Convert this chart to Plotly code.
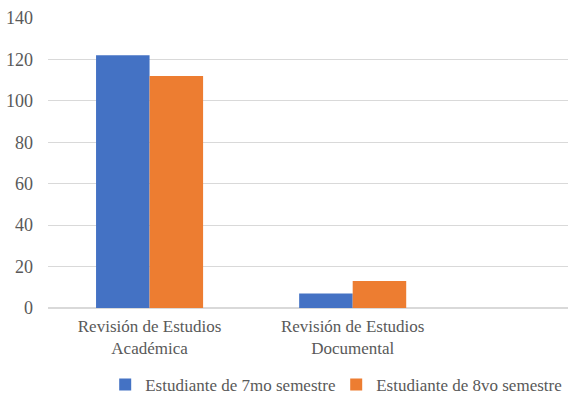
import plotly.graph_objs as go

# datos
categorias = ["Revisión de Estudios<br>Académica", "Revisión de Estudios<br>Documental", " "]
septimo = [122, 7, None]
octavo = [112, 13, None]
nombres = ["Estudiante de 7mo semestre", "Estudiante de 8vo semestre"]
colores = ["#4472C4", "#ED7D31"]

fuente = "Liberation Serif"

fig = go.Figure()
fig.add_trace(go.Bar(x=categorias, y=septimo, name=nombres[0], marker_color=colores[0],
                     marker_line_width=0))
fig.add_trace(go.Bar(x=categorias, y=octavo, name=nombres[1], marker_color=colores[1],
                     marker_line_width=0))

fig.update_layout(
    width=568, height=394,
    margin=dict(l=48, r=0, t=18, b=86, autoexpand=False),
    paper_bgcolor="white", plot_bgcolor="white",
    font=dict(family=fuente, size=17, color="#595959"),
    barmode="group", bargap=0.473, bargroupgap=0,
    showlegend=True,
    legend=dict(orientation="h", x=0.11, xanchor="left", y=-0.265, yanchor="middle",
                font=dict(family=fuente, size=17, color="#595959"),
                itemwidth=30, entrywidth=186, traceorder="normal"),
)
fig.update_xaxes(range=[-0.5, 2.06], showline=False, ticks="", showgrid=False,
                 tickfont=dict(family=fuente, size=17), ticklabelstandoff=6)
fig.update_yaxes(range=[0, 140], dtick=20, showgrid=True, gridcolor="#D9D9D9", gridwidth=1,
                 zeroline=True, zerolinecolor="#D9D9D9", ticks="", ticklen=0,
                 tickfont=dict(family=fuente, size=18), showline=False,
                 ticklabelstandoff=14)

# quitar el margen del body para que el grafico ocupe la ventana
fig.write_html("out.html", config={"displayModeBar": False},
               post_script="document.body.style.margin='0';")
